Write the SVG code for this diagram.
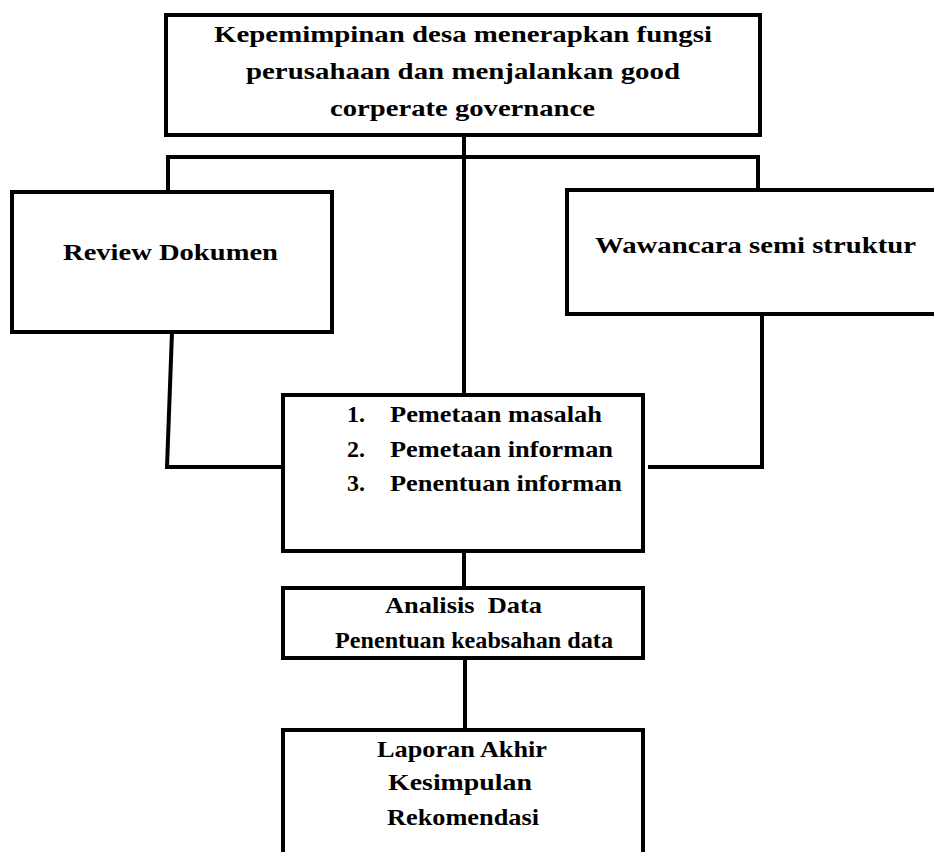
<svg xmlns="http://www.w3.org/2000/svg" width="934" height="852" viewBox="0 0 934 852">
<style>
  .box { fill: #ffffff; stroke: #000000; stroke-width: 4; stroke-linejoin: miter; }
  .conn { fill: none; stroke: #000000; stroke-width: 4; stroke-linejoin: miter; }
  .t { font-family: "Liberation Serif", "Times New Roman", serif; font-weight: bold; font-size: 23px; fill: #000000; }
</style>
<rect x="0" y="0" width="934" height="852" fill="#ffffff"/>
<g id="connectors">
  <path class="conn" d="M464,135 V395"/>
  <path class="conn" d="M168,192 V157 H758 V190"/>
  <path class="conn" d="M172,332 L167,467 H283"/>
  <path class="conn" d="M762,314 V467 H648"/>
  <path class="conn" d="M464,551 V588"/>
  <path class="conn" d="M465,658 V730"/>
</g>
<g id="node-top">
  <rect class="box" x="166" y="15" width="594" height="120"/>
  <text class="t" x="214" y="42" textLength="498" lengthAdjust="spacingAndGlyphs">Kepemimpinan desa menerapkan fungsi</text>
  <text class="t" x="246" y="79" textLength="434" lengthAdjust="spacingAndGlyphs">perusahaan dan menjalankan good</text>
  <text class="t" x="330" y="116" textLength="265" lengthAdjust="spacingAndGlyphs">corperate governance</text>
</g>
<g id="node-review">
  <rect class="box" x="12" y="192" width="320" height="140"/>
  <text class="t" x="63" y="260" textLength="215" lengthAdjust="spacingAndGlyphs">Review Dokumen</text>
</g>
<g id="node-wawancara">
  <path class="box" d="M940,190 H567 V314 H940"/>
  <text class="t" x="595" y="253" textLength="321" lengthAdjust="spacingAndGlyphs">Wawancara semi struktur</text>
</g>
<g id="node-pemetaan">
  <rect class="box" x="283" y="395" width="360" height="156"/>
  <text class="t" x="347" y="422" textLength="18" lengthAdjust="spacingAndGlyphs">1.</text>
  <text class="t" x="390" y="422" textLength="212" lengthAdjust="spacingAndGlyphs">Pemetaan masalah</text>
  <text class="t" x="347" y="457" textLength="18" lengthAdjust="spacingAndGlyphs">2.</text>
  <text class="t" x="390" y="457" textLength="223" lengthAdjust="spacingAndGlyphs">Pemetaan informan</text>
  <text class="t" x="347" y="491" textLength="18" lengthAdjust="spacingAndGlyphs">3.</text>
  <text class="t" x="390" y="491" textLength="232" lengthAdjust="spacingAndGlyphs">Penentuan informan</text>
</g>
<g id="node-analisis">
  <rect class="box" x="283" y="588" width="360" height="70"/>
  <text class="t" x="385" y="613" textLength="157" lengthAdjust="spacingAndGlyphs" xml:space="preserve">Analisis  Data</text>
  <text class="t" x="335" y="648" textLength="278" lengthAdjust="spacingAndGlyphs">Penentuan keabsahan data</text>
</g>
<g id="node-laporan">
  <rect class="box" x="283" y="730" width="360" height="200"/>
  <text class="t" x="377" y="757" textLength="170" lengthAdjust="spacingAndGlyphs">Laporan Akhir</text>
  <text class="t" x="388" y="790" textLength="144" lengthAdjust="spacingAndGlyphs">Kesimpulan</text>
  <text class="t" x="387" y="825" textLength="152" lengthAdjust="spacingAndGlyphs">Rekomendasi</text>
</g>
</svg>
